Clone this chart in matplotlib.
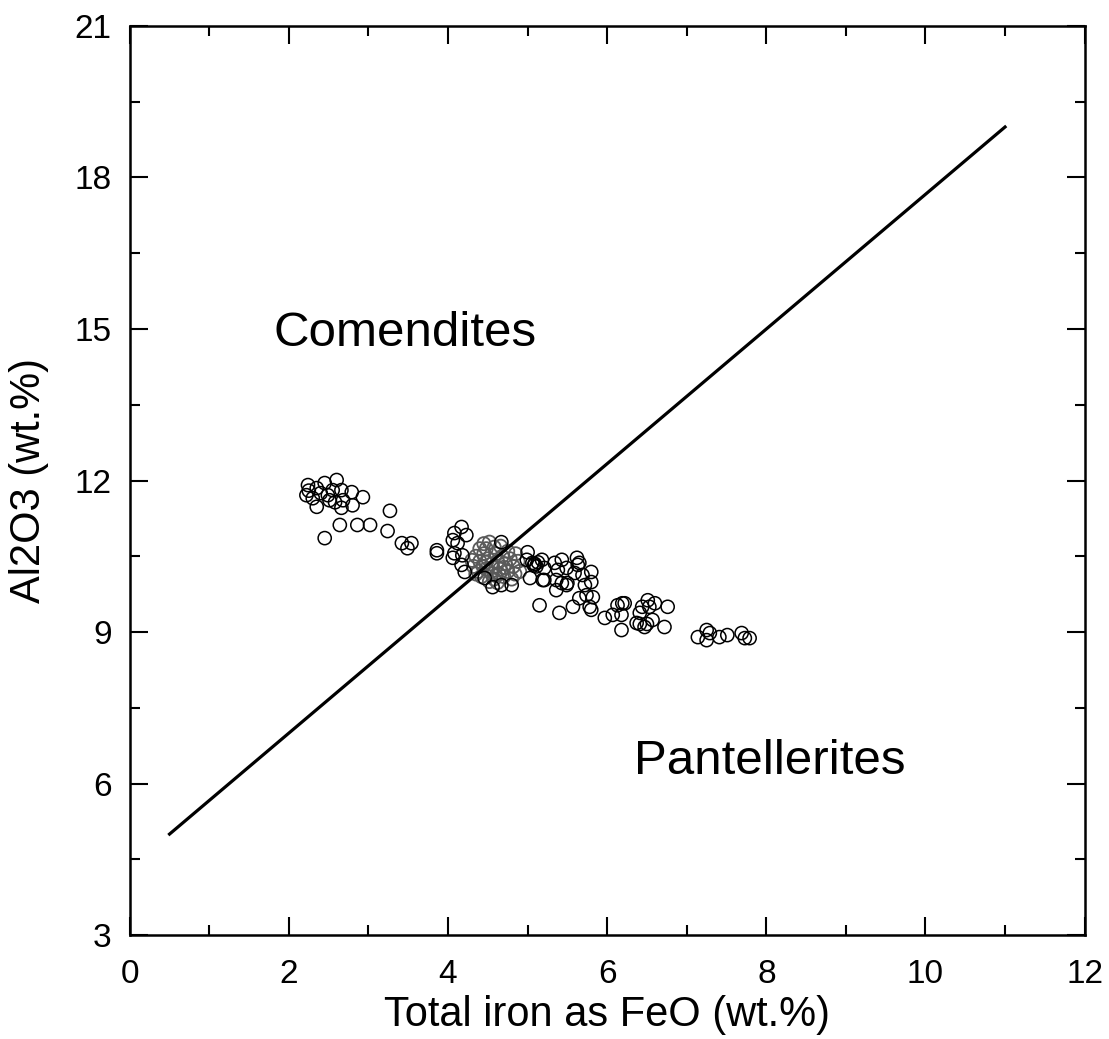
import matplotlib.pyplot as plt
from matplotlib.ticker import MultipleLocator

plt.rcParams['font.family'] = ['Liberation Sans', 'DejaVu Sans']

# dividing line between the two fields
line_feo = [0.5, 11.0]
line_al2o3 = [5.0, 19.0]

# samples drawn with black outlines
feo_black = [
    2.24, 2.22, 2.25, 2.35, 2.45, 2.60, 2.49, 2.51, 2.66, 2.79, 2.68, 2.66, 2.80, 2.93,
    2.35, 2.55, 2.58, 2.30, 2.40,
    3.27, 2.64, 2.86, 3.02, 2.45, 3.24, 3.42, 3.54, 3.49, 3.86, 3.86,
    4.17, 4.23, 4.08, 4.06, 4.12, 4.08, 4.06, 4.18, 4.17, 4.21,
    4.67, 4.56, 4.67, 4.80, 4.46,
    5.00, 4.99, 5.06, 5.09, 5.11, 5.08, 5.13, 5.18, 5.21, 5.03, 5.19, 5.34, 5.43, 5.38,
    5.49, 5.36, 5.50, 5.43, 5.62, 5.65, 5.63, 5.59, 5.69, 5.80, 5.80, 5.72, 5.36, 5.49, 5.21,
    5.40, 5.15, 5.57, 5.65, 5.74, 5.82, 5.78, 5.80,
    5.97, 6.07, 6.13, 6.19, 6.18, 6.22, 6.18, 6.37, 6.41, 6.44, 6.51, 6.53, 6.60, 6.50,
    6.47, 6.57, 6.76, 6.72, 6.41,
    7.14, 7.25, 7.29, 7.25, 7.41, 7.51, 7.69, 7.73, 7.79,
]
al2o3_black = [
    11.91, 11.71, 11.80, 11.48, 11.95, 12.01, 11.71, 11.61, 11.81, 11.77, 11.61, 11.46, 11.51, 11.67,
    11.85, 11.81, 11.57, 11.65, 11.75,
    11.40, 11.12, 11.12, 11.12, 10.86, 11.00, 10.76, 10.76, 10.66, 10.62, 10.56,
    11.08, 10.92, 10.96, 10.82, 10.76, 10.56, 10.47, 10.52, 10.33, 10.19,
    10.78, 9.89, 9.93, 9.93, 10.07,
    10.58, 10.43, 10.37, 10.35, 10.30, 10.32, 10.38, 10.43, 10.27, 10.07, 10.03, 10.37, 10.43, 10.23,
    10.27, 10.03, 9.97, 9.97, 10.47, 10.37, 10.33, 10.17, 10.13, 10.19, 9.99, 9.93, 9.83, 9.93, 10.03,
    9.38, 9.53, 9.50, 9.67, 9.73, 9.69, 9.50, 9.44,
    9.28, 9.34, 9.53, 9.57, 9.34, 9.57, 9.04, 9.18, 9.38, 9.50, 9.63, 9.50, 9.57, 9.16,
    9.10, 9.24, 9.50, 9.10, 9.16,
    8.90, 9.04, 8.98, 8.84, 8.90, 8.94, 8.98, 8.88, 8.88,
]

# dense group drawn in grey
feo_grey = [
    4.45, 4.52, 4.48, 4.35, 4.40, 4.32, 4.38, 4.45, 4.50, 4.55, 4.48, 4.42, 4.55, 4.60,
    4.62, 4.65, 4.58, 4.68, 4.72, 4.75, 4.70, 4.78, 4.82, 4.85, 4.88, 4.80, 4.62, 4.52,
    4.75, 4.90, 4.40, 4.58, 4.66, 4.35, 4.48, 4.64, 4.30, 4.44, 4.56, 4.70, 4.84, 4.60,
]
al2o3_grey = [
    10.75, 10.78, 10.65, 10.50, 10.40, 10.30, 10.20, 10.55, 10.45, 10.35, 10.25, 10.10, 10.15, 10.55,
    10.40, 10.25, 10.05, 10.50, 10.35, 10.20, 10.10, 10.45, 10.30, 10.55, 10.40, 10.05, 9.98, 10.00,
    10.60, 10.20, 10.65, 10.68, 10.70, 10.15, 10.38, 10.15, 10.42, 10.30, 10.28, 10.28, 10.15, 10.12,
]

fig = plt.figure(figsize=(11.09, 10.39), dpi=100)
ax = fig.add_axes([0.117, 0.100, 0.861, 0.875])

ax.plot(line_feo, line_al2o3, color="black", linewidth=2.3)
ax.scatter(feo_grey, al2o3_grey, s=90, facecolors="none", edgecolors="#5a5a5a", linewidths=1.3)
ax.scatter(feo_black, al2o3_black, s=90, facecolors="none", edgecolors="black", linewidths=1.1)

ax.text(3.46, 14.92, "Comendites", fontsize=35.5, ha="center", va="center")
ax.text(8.04, 6.43, "Pantellerites", fontsize=35.5, ha="center", va="center")

ax.set_xlim(0, 12)
ax.set_ylim(3, 21)
ax.xaxis.set_major_locator(MultipleLocator(2))
ax.xaxis.set_minor_locator(MultipleLocator(1))
ax.yaxis.set_major_locator(MultipleLocator(3))
ax.yaxis.set_minor_locator(MultipleLocator(1.5))
ax.tick_params(which="both", direction="in", top=True, right=True, width=1.5, labelsize=24)
ax.tick_params(which="major", length=13)
ax.tick_params(which="minor", length=7)
ax.tick_params(axis="x", which="major", pad=17)
ax.tick_params(axis="y", which="major", pad=13)
for spine in ax.spines.values():
    spine.set_linewidth(1.8)

ax.set_xlabel("Total iron as FeO (wt.%)", fontsize=30)
ax.set_ylabel("Al2O3 (wt.%)", fontsize=30)
ax.xaxis.set_label_coords(0.5, -0.066)
ax.yaxis.set_label_coords(-0.085, 0.5)

fig.savefig("out.png", dpi=100)
